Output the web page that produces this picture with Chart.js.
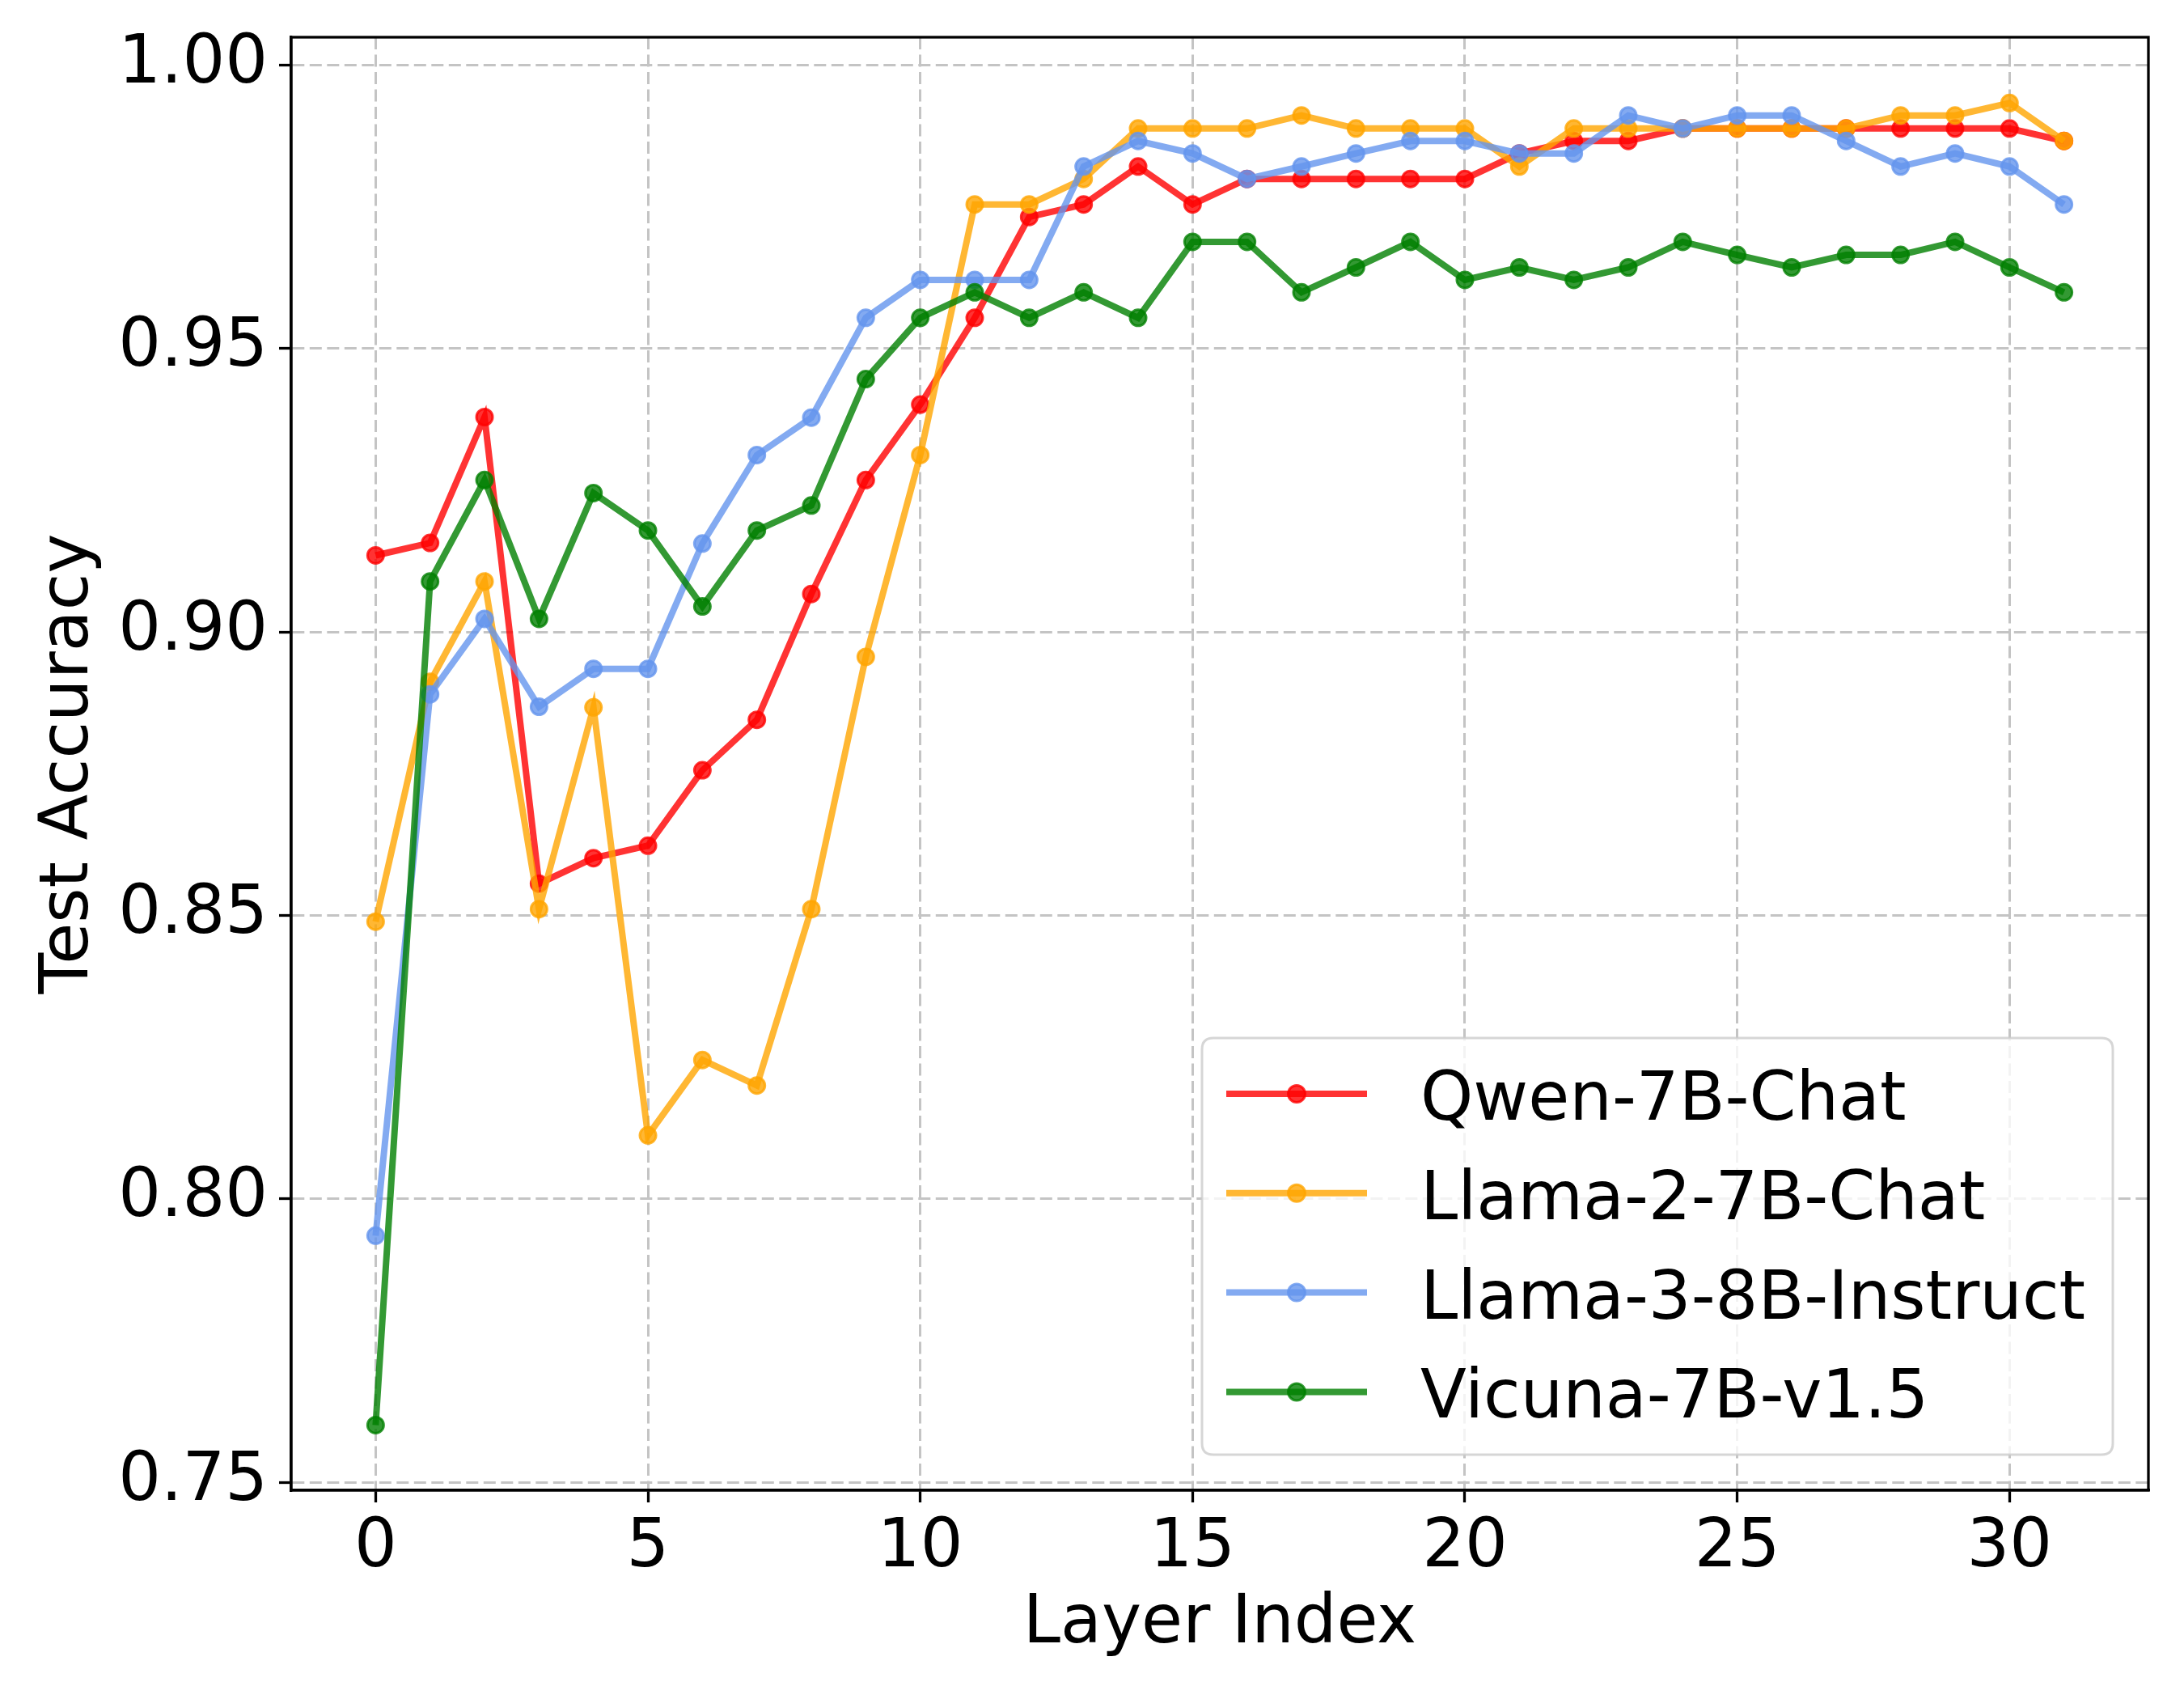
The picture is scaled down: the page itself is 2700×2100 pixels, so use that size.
<!DOCTYPE html>
<html>
<head>
<meta charset="utf-8">
<script src="https://cdn.jsdelivr.net/npm/chart.js@4.4.1/dist/chart.umd.min.js"></script>
<style>
  html, body { margin: 0; padding: 0; background: #ffffff; }
  #wrap { width: 2700px; height: 2100px; }
  canvas { display: block; }
</style>
</head>
<body>
<div id="wrap"><canvas id="c" width="2700" height="2100" style="width:2700px;height:2100px"></canvas></div>
<script>
// ---------------- data ----------------
const layers = [0,1,2,3,4,5,6,7,8,9,10,11,12,13,14,15,16,17,18,19,20,21,22,23,24,25,26,27,28,29,30,31];

const qwen7bChat = [0.9135,0.9157,0.9379,0.8556,0.8601,0.8623,0.8756,0.8845,0.9067,0.9268,0.9401,0.9554,0.9732,0.9754,0.9821,0.9754,0.9799,0.9799,0.9799,0.9799,0.9799,0.9844,0.9866,0.9866,0.9888,0.9888,0.9888,0.9888,0.9888,0.9888,0.9888,0.9866];
const llama2_7bChat = [0.8489,0.8912,0.9089,0.8511,0.8867,0.8112,0.8245,0.8200,0.8511,0.8956,0.9312,0.9754,0.9754,0.9799,0.9888,0.9888,0.9888,0.9911,0.9888,0.9888,0.9888,0.9821,0.9888,0.9888,0.9888,0.9888,0.9888,0.9888,0.9911,0.9911,0.9933,0.9866];
const llama3_8bInstruct = [0.7935,0.8890,0.9023,0.8868,0.8935,0.8935,0.9156,0.9312,0.9378,0.9554,0.9621,0.9621,0.9621,0.9821,0.9866,0.9844,0.9799,0.9821,0.9844,0.9866,0.9866,0.9844,0.9844,0.9911,0.9888,0.9911,0.9911,0.9866,0.9821,0.9844,0.9821,0.9754];
const vicuna7bV15 = [0.7601,0.9089,0.9268,0.9023,0.9245,0.9179,0.9045,0.9179,0.9223,0.9446,0.9554,0.9599,0.9554,0.9599,0.9554,0.9688,0.9688,0.9599,0.9643,0.9688,0.9621,0.9643,0.9621,0.9643,0.9688,0.9665,0.9643,0.9665,0.9665,0.9688,0.9643,0.9599];

const seriesNames = ['Qwen-7B-Chat','Llama-2-7B-Chat','Llama-3-8B-Instruct','Vicuna-7B-v1.5'];
const xTickValues = [0,5,10,15,20,25,30];
const yTickValues = [0.75,0.80,0.85,0.90,0.95,1.00];
const xAxisTitle = 'Layer Index';
const yAxisTitle = 'Test Accuracy';

// ---------------- styling ----------------
const FONT = "'DejaVu Sans', 'Liberation Sans', sans-serif";
const FS = 83;
const colors = ['rgba(255,0,0,0.8)','rgba(255,165,0,0.8)','rgba(100,149,237,0.8)','rgba(0,128,0,0.8)'];
const allSeries = [qwen7bChat, llama2_7bChat, llama3_8bInstruct, vicuna7bV15];

function toPoints(vals) { return layers.map((x, i) => ({x: x, y: vals[i]})); }

const datasets = allSeries.map((vals, i) => ({
  label: seriesNames[i],
  data: toPoints(vals),
  borderColor: colors[i],
  backgroundColor: colors[i],
  pointBackgroundColor: colors[i],
  pointBorderColor: colors[i],
  borderWidth: 8,
  pointRadius: 10,
  pointBorderWidth: 3,
  pointHoverRadius: 10,
  tension: 0,
  fill: false,
  order: allSeries.length - 1 - i
}));

// axes frame (all four spines)
const framePlugin = {
  id: 'frame',
  afterDatasetsDraw(chart) {
    const {ctx, chartArea: a} = chart;
    ctx.save();
    ctx.strokeStyle = '#000000';
    ctx.lineWidth = 3.3;
    ctx.setLineDash([]);
    ctx.strokeRect(a.left, a.top, a.right - a.left, a.bottom - a.top);
    ctx.restore();
  }
};

// matplotlib-like legend in the lower right
const mplLegend = {
  id: 'mplLegend',
  afterDraw(chart) {
    const ctx = chart.ctx;
    const bx = 1486, by = 1283, bw = 1126, bh = 515, r = 14;
    ctx.save();
    ctx.beginPath();
    ctx.moveTo(bx + r, by);
    ctx.lineTo(bx + bw - r, by);
    ctx.quadraticCurveTo(bx + bw, by, bx + bw, by + r);
    ctx.lineTo(bx + bw, by + bh - r);
    ctx.quadraticCurveTo(bx + bw, by + bh, bx + bw - r, by + bh);
    ctx.lineTo(bx + r, by + bh);
    ctx.quadraticCurveTo(bx, by + bh, bx, by + bh - r);
    ctx.lineTo(bx, by + r);
    ctx.quadraticCurveTo(bx, by, bx + r, by);
    ctx.closePath();
    ctx.fillStyle = 'rgba(255,255,255,0.8)';
    ctx.fill();
    ctx.strokeStyle = 'rgba(204,204,204,0.8)';
    ctx.lineWidth = 3;
    ctx.stroke();

    const x1 = 1516, x2 = 1690, mx = 1603, tx = 1756, y0 = 1352, step = 122.8;
    chart.data.datasets.forEach((ds, i) => {
      const y = y0 + i * step;
      ctx.strokeStyle = ds.borderColor;
      ctx.lineWidth = ds.borderWidth;
      ctx.beginPath();
      ctx.moveTo(x1, y);
      ctx.lineTo(x2, y);
      ctx.stroke();
      ctx.beginPath();
      ctx.arc(mx, y, ds.pointRadius + 0.5, 0, Math.PI * 2);
      ctx.fillStyle = ds.pointBackgroundColor;
      ctx.fill();
      ctx.lineWidth = ds.pointBorderWidth;
      ctx.strokeStyle = ds.pointBorderColor;
      ctx.stroke();
      ctx.fillStyle = '#000000';
      ctx.font = FS + 'px ' + FONT;
      ctx.textAlign = 'left';
      ctx.textBaseline = 'alphabetic';
      ctx.fillText(ds.label, tx, y + 32);
    });
    ctx.restore();
  }
};

const gridCommon = {
  color: '#c4c4c4',
  lineWidth: 3,
  drawTicks: true,
  tickLength: 15,
  tickColor: '#000000',
  tickWidth: 3.3,
  tickBorderDash: []
};

new Chart(document.getElementById('c'), {
  type: 'line',
  data: { datasets: datasets },
  plugins: [framePlugin, mplLegend],
  options: {
    responsive: false,
    maintainAspectRatio: false,
    devicePixelRatio: 1,
    animation: false,
    events: [],
    layout: { padding: { left: 0, top: 46, right: 44, bottom: 0 } },
    plugins: {
      legend: { display: false },
      tooltip: { enabled: false },
      title: { display: false }
    },
    scales: {
      x: {
        type: 'linear',
        min: -1.55,
        max: 32.55,
        afterBuildTicks(scale) { scale.ticks = xTickValues.map(v => ({value: v})); },
        afterFit(scale) {
          scale.height = 258;
          scale.paddingLeft = 0; scale.paddingRight = 0;
          scale.paddingTop = 0; scale.paddingBottom = 0;
        },
        ticks: {
          autoSkip: false,
          maxRotation: 0,
          minRotation: 0,
          padding: 8,
          color: '#000000',
          font: { family: FONT, size: FS },
          callback: (v) => String(v)
        },
        grid: gridCommon,
        border: { display: true, color: '#000000', width: 3.3, dash: [15, 6.5] },
        title: {
          display: true,
          text: xAxisTitle,
          color: '#000000',
          font: { family: FONT, size: FS },
          padding: { top: 0, bottom: 42 }
        }
      },
      y: {
        type: 'linear',
        min: 0.7486,
        max: 1.0049,
        afterBuildTicks(scale) { scale.ticks = yTickValues.map(v => ({value: v})); },
        afterFit(scale) {
          scale.width = 360;
          scale.paddingLeft = 0; scale.paddingRight = 0;
          scale.paddingTop = 0; scale.paddingBottom = 0;
        },
        ticks: {
          autoSkip: false,
          padding: 14,
          color: '#000000',
          font: { family: FONT, size: FS },
          callback: (v) => Number(v).toFixed(2)
        },
        grid: gridCommon,
        border: { display: true, color: '#000000', width: 3.3, dash: [15, 6.5] },
        title: {
          display: true,
          text: yAxisTitle,
          color: '#000000',
          font: { family: FONT, size: FS },
          padding: { top: 37, bottom: 0 }
        }
      }
    }
  }
});
</script>
</body>
</html>
